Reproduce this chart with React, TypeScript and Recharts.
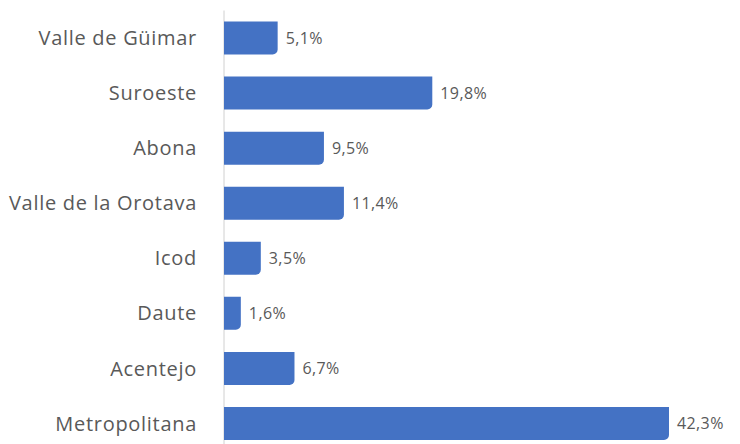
import { BarChart, Bar, XAxis, YAxis, CartesianGrid, LabelList } from 'recharts';

const regions = [
  'Valle de Güimar',
  'Suroeste',
  'Abona',
  'Valle de la Orotava',
  'Icod',
  'Daute',
  'Acentejo',
  'Metropolitana',
];
const shares = [5.1, 19.8, 9.5, 11.4, 3.5, 1.6, 6.7, 42.3];
const xTicks = [0, 10, 20, 30, 40, 50];

const data = regions.map((region, i) => ({ region, share: shares[i] }));

const fmt = (v: unknown) => `${Number(v).toFixed(1).replace('.', ',')}%`;

export default function App() {
  return (
    <div style={{ width: 732, height: 436, overflow: 'hidden', fontFamily: '"Open Sans", sans-serif' }}>
      <BarChart
        width={742}
        height={475}
        data={data}
        layout="vertical"
        margin={{ top: 2.5, right: 0, bottom: 0, left: 0 }}
        barCategoryGap="20%"
      >
        <CartesianGrid horizontal={false} stroke="#d0d0d0" />
        <XAxis type="number" domain={[0, 50]} ticks={xTicks} height={32} axisLine={false} tickLine={false} tick={false} />
        <YAxis
          type="category"
          dataKey="region"
          width={216}
          axisLine={false}
          tickLine={false}
          tickSize={0}
          tickMargin={27}
          tick={{ fill: '#595959', fontSize: 20, letterSpacing: 0.7 }}
        />
        <Bar dataKey="share" fill="#4472C4" radius={[0, 0, 5, 0]} isAnimationActive={false}>
          <LabelList
            dataKey="share"
            position="right"
            offset={8}
            formatter={fmt}
            fill="#595959"
            fontSize={16}
            letterSpacing={0.4}
          />
        </Bar>
      </BarChart>
    </div>
  );
}
